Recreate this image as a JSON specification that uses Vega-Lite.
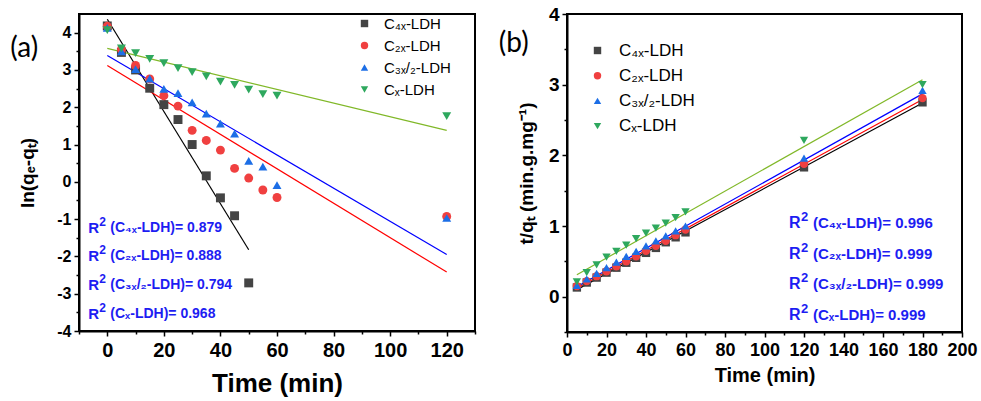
{
  "$schema": "https://vega.github.io/schema/vega-lite/v6.json",
  "padding": {"left": 9, "top": 4, "right": 0, "bottom": 0},
  "spacing": 20,
  "config": {
    "view": {"stroke": "black", "strokeWidth": 2},
    "font": "Liberation Sans",
    "axis": {
      "domainColor": "black", "domainWidth": 2, "tickColor": "black", "tickWidth": 1.5,
      "labelColor": "black", "labelFont": "Liberation Sans", "labelFontWeight": "bold",
      "titleColor": "black", "titleFont": "Liberation Sans", "titleFontWeight": "bold",
      "grid": false, "labelOverlap": false, "labelFlush": false
    },
    "legend": {"labelFont": "Liberation Sans", "labelColor": "black", "symbolStrokeWidth": 0, "padding": 0}
  },
  "datasets": {
    "a_pts": [
      {"s": "C₄ₓ-LDH", "t": 0, "v": 4.18}, {"s": "C₄ₓ-LDH", "t": 5, "v": 3.47}, {"s": "C₄ₓ-LDH", "t": 10, "v": 3.0}, {"s": "C₄ₓ-LDH", "t": 15, "v": 2.51}, {"s": "C₄ₓ-LDH", "t": 20, "v": 2.07}, {"s": "C₄ₓ-LDH", "t": 25, "v": 1.67}, {"s": "C₄ₓ-LDH", "t": 30, "v": 1.0}, {"s": "C₄ₓ-LDH", "t": 35, "v": 0.16}, {"s": "C₄ₓ-LDH", "t": 40, "v": -0.43}, {"s": "C₄ₓ-LDH", "t": 45, "v": -0.91}, {"s": "C₄ₓ-LDH", "t": 50, "v": -2.71},
      {"s": "C₂ₓ-LDH", "t": 0, "v": 4.17}, {"s": "C₂ₓ-LDH", "t": 5, "v": 3.55}, {"s": "C₂ₓ-LDH", "t": 10, "v": 3.12}, {"s": "C₂ₓ-LDH", "t": 15, "v": 2.76}, {"s": "C₂ₓ-LDH", "t": 20, "v": 2.31}, {"s": "C₂ₓ-LDH", "t": 25, "v": 2.03}, {"s": "C₂ₓ-LDH", "t": 30, "v": 1.38}, {"s": "C₂ₓ-LDH", "t": 35, "v": 1.11}, {"s": "C₂ₓ-LDH", "t": 40, "v": 0.85}, {"s": "C₂ₓ-LDH", "t": 45, "v": 0.36}, {"s": "C₂ₓ-LDH", "t": 50, "v": 0.1}, {"s": "C₂ₓ-LDH", "t": 55, "v": -0.22}, {"s": "C₂ₓ-LDH", "t": 60, "v": -0.42}, {"s": "C₂ₓ-LDH", "t": 120, "v": -0.93},
      {"s": "C₃ₓ/₂-LDH", "t": 0, "v": 4.13}, {"s": "C₃ₓ/₂-LDH", "t": 5, "v": 3.5}, {"s": "C₃ₓ/₂-LDH", "t": 10, "v": 3.02}, {"s": "C₃ₓ/₂-LDH", "t": 15, "v": 2.77}, {"s": "C₃ₓ/₂-LDH", "t": 20, "v": 2.49}, {"s": "C₃ₓ/₂-LDH", "t": 25, "v": 2.38}, {"s": "C₃ₓ/₂-LDH", "t": 30, "v": 2.13}, {"s": "C₃ₓ/₂-LDH", "t": 35, "v": 1.83}, {"s": "C₃ₓ/₂-LDH", "t": 40, "v": 1.56}, {"s": "C₃ₓ/₂-LDH", "t": 45, "v": 1.29}, {"s": "C₃ₓ/₂-LDH", "t": 50, "v": 0.56}, {"s": "C₃ₓ/₂-LDH", "t": 55, "v": 0.41}, {"s": "C₃ₓ/₂-LDH", "t": 60, "v": -0.09}, {"s": "C₃ₓ/₂-LDH", "t": 120, "v": -0.97},
      {"s": "Cₓ-LDH", "t": 0, "v": 4.07}, {"s": "Cₓ-LDH", "t": 5, "v": 3.58}, {"s": "Cₓ-LDH", "t": 10, "v": 3.45}, {"s": "Cₓ-LDH", "t": 15, "v": 3.3}, {"s": "Cₓ-LDH", "t": 20, "v": 3.18}, {"s": "Cₓ-LDH", "t": 25, "v": 3.05}, {"s": "Cₓ-LDH", "t": 30, "v": 2.94}, {"s": "Cₓ-LDH", "t": 35, "v": 2.83}, {"s": "Cₓ-LDH", "t": 40, "v": 2.69}, {"s": "Cₓ-LDH", "t": 45, "v": 2.6}, {"s": "Cₓ-LDH", "t": 50, "v": 2.47}, {"s": "Cₓ-LDH", "t": 55, "v": 2.35}, {"s": "Cₓ-LDH", "t": 60, "v": 2.31}, {"s": "Cₓ-LDH", "t": 120, "v": 1.76}
    ],
    "a_fit": [
      {"s": "C₄ₓ-LDH", "t": 0, "v": 4.36}, {"s": "C₄ₓ-LDH", "t": 50, "v": -1.82},
      {"s": "C₂ₓ-LDH", "t": 0, "v": 3.12}, {"s": "C₂ₓ-LDH", "t": 120, "v": -2.42},
      {"s": "C₃ₓ/₂-LDH", "t": 0, "v": 3.39}, {"s": "C₃ₓ/₂-LDH", "t": 120, "v": -1.95},
      {"s": "Cₓ-LDH", "t": 0, "v": 3.58}, {"s": "Cₓ-LDH", "t": 120, "v": 1.38}
    ],
    "b_pts": [
      {"s": "C₄ₓ-LDH", "t": 5, "v": 0.13}, {"s": "C₄ₓ-LDH", "t": 10, "v": 0.2}, {"s": "C₄ₓ-LDH", "t": 15, "v": 0.27}, {"s": "C₄ₓ-LDH", "t": 20, "v": 0.34}, {"s": "C₄ₓ-LDH", "t": 25, "v": 0.41}, {"s": "C₄ₓ-LDH", "t": 30, "v": 0.48}, {"s": "C₄ₓ-LDH", "t": 35, "v": 0.55}, {"s": "C₄ₓ-LDH", "t": 40, "v": 0.62}, {"s": "C₄ₓ-LDH", "t": 45, "v": 0.69}, {"s": "C₄ₓ-LDH", "t": 50, "v": 0.77}, {"s": "C₄ₓ-LDH", "t": 55, "v": 0.84}, {"s": "C₄ₓ-LDH", "t": 60, "v": 0.91}, {"s": "C₄ₓ-LDH", "t": 120, "v": 1.83}, {"s": "C₄ₓ-LDH", "t": 180, "v": 2.75},
      {"s": "C₂ₓ-LDH", "t": 5, "v": 0.15}, {"s": "C₂ₓ-LDH", "t": 10, "v": 0.22}, {"s": "C₂ₓ-LDH", "t": 15, "v": 0.29}, {"s": "C₂ₓ-LDH", "t": 20, "v": 0.36}, {"s": "C₂ₓ-LDH", "t": 25, "v": 0.43}, {"s": "C₂ₓ-LDH", "t": 30, "v": 0.5}, {"s": "C₂ₓ-LDH", "t": 35, "v": 0.57}, {"s": "C₂ₓ-LDH", "t": 40, "v": 0.65}, {"s": "C₂ₓ-LDH", "t": 45, "v": 0.72}, {"s": "C₂ₓ-LDH", "t": 50, "v": 0.79}, {"s": "C₂ₓ-LDH", "t": 55, "v": 0.87}, {"s": "C₂ₓ-LDH", "t": 60, "v": 0.95}, {"s": "C₂ₓ-LDH", "t": 120, "v": 1.88}, {"s": "C₂ₓ-LDH", "t": 180, "v": 2.81},
      {"s": "C₃ₓ/₂-LDH", "t": 5, "v": 0.16}, {"s": "C₃ₓ/₂-LDH", "t": 10, "v": 0.25}, {"s": "C₃ₓ/₂-LDH", "t": 15, "v": 0.33}, {"s": "C₃ₓ/₂-LDH", "t": 20, "v": 0.41}, {"s": "C₃ₓ/₂-LDH", "t": 25, "v": 0.49}, {"s": "C₃ₓ/₂-LDH", "t": 30, "v": 0.57}, {"s": "C₃ₓ/₂-LDH", "t": 35, "v": 0.64}, {"s": "C₃ₓ/₂-LDH", "t": 40, "v": 0.72}, {"s": "C₃ₓ/₂-LDH", "t": 45, "v": 0.79}, {"s": "C₃ₓ/₂-LDH", "t": 50, "v": 0.86}, {"s": "C₃ₓ/₂-LDH", "t": 55, "v": 0.93}, {"s": "C₃ₓ/₂-LDH", "t": 60, "v": 1.0}, {"s": "C₃ₓ/₂-LDH", "t": 120, "v": 1.96}, {"s": "C₃ₓ/₂-LDH", "t": 180, "v": 2.92},
      {"s": "Cₓ-LDH", "t": 5, "v": 0.21}, {"s": "Cₓ-LDH", "t": 10, "v": 0.34}, {"s": "Cₓ-LDH", "t": 15, "v": 0.45}, {"s": "Cₓ-LDH", "t": 20, "v": 0.56}, {"s": "Cₓ-LDH", "t": 25, "v": 0.64}, {"s": "Cₓ-LDH", "t": 30, "v": 0.73}, {"s": "Cₓ-LDH", "t": 35, "v": 0.82}, {"s": "Cₓ-LDH", "t": 40, "v": 0.9}, {"s": "Cₓ-LDH", "t": 45, "v": 0.97}, {"s": "Cₓ-LDH", "t": 50, "v": 1.04}, {"s": "Cₓ-LDH", "t": 55, "v": 1.12}, {"s": "Cₓ-LDH", "t": 60, "v": 1.2}, {"s": "Cₓ-LDH", "t": 120, "v": 2.21}, {"s": "Cₓ-LDH", "t": 180, "v": 3.0}
    ],
    "b_fit": [
      {"s": "C₄ₓ-LDH", "t": 5, "v": 0.1}, {"s": "C₄ₓ-LDH", "t": 180, "v": 2.74},
      {"s": "C₂ₓ-LDH", "t": 5, "v": 0.12}, {"s": "C₂ₓ-LDH", "t": 180, "v": 2.79},
      {"s": "C₃ₓ/₂-LDH", "t": 5, "v": 0.14}, {"s": "C₃ₓ/₂-LDH", "t": 180, "v": 2.87},
      {"s": "Cₓ-LDH", "t": 5, "v": 0.31}, {"s": "Cₓ-LDH", "t": 180, "v": 3.07}
    ],
    "one": [{}]
  },
  "hconcat": [
    {
      "width": 396,
      "height": 317,
      "layer": [
        {
          "encoding": {
            "x": {"field": "t", "type": "quantitative", "scale": {"domain": [-10, 130], "nice": false, "zero": false},
              "axis": {"title": "Time (min)", "titleFontSize": 26, "titlePadding": 10, "labelFontSize": 20, "labelPadding": 4, "labelOverlap": false,
                "values": [-10, 0, 10, 20, 30, 40, 50, 60, 70, 80, 90, 100, 110, 120, 130],
                "labelExpr": "datum.value % 20 === 0 && datum.value >= 0 && datum.value <= 120 ? '' + datum.value : ''",
                "tickSize": {"condition": {"test": "datum.value % 20 === 0", "value": 5}, "value": 3}}},
            "y": {"field": "v", "type": "quantitative", "scale": {"domain": [-4, 4.5], "nice": false, "zero": false},
              "axis": {"title": "ln(qₑ-qₜ)", "titleFontSize": 19, "titlePadding": 19, "labelFontSize": 16, "labelPadding": 3, "labelOverlap": false,
                "values": [-4, -3.5, -3, -2.5, -2, -1.5, -1, -0.5, 0, 0.5, 1, 1.5, 2, 2.5, 3, 3.5, 4],
                "labelExpr": "datum.value % 1 === 0 ? '' + datum.value : ''",
                "tickSize": {"condition": {"test": "datum.value % 1 === 0", "value": 5}, "value": 3}}}
          },
          "layer": [
            {
              "data": {"name": "a_fit"},
              "mark": {"type": "line", "strokeWidth": 1.2},
              "encoding": {
                "detail": {"field": "s", "type": "nominal"},
                "stroke": {"condition": [{"test": "datum.s === 'C₄ₓ-LDH'", "value": "#000000"}, {"test": "datum.s === 'C₂ₓ-LDH'", "value": "#ff0000"}, {"test": "datum.s === 'C₃ₓ/₂-LDH'", "value": "#0000ff"}], "value": "#80b828"}
              }
            },
            {
              "data": {"name": "a_pts"},
              "mark": {"type": "point", "filled": true, "size": 80, "opacity": 1, "strokeWidth": 0},
              "encoding": {
                "color": {"field": "s", "type": "nominal", "title": null,
                  "scale": {"domain": ["C₄ₓ-LDH", "C₂ₓ-LDH", "C₃ₓ/₂-LDH", "Cₓ-LDH"], "range": ["#444444", "#f04040", "#1c6ee6", "#2ea85e"]},
                  "legend": {"orient": "none", "legendX": 278, "legendY": 2, "labelFontSize": 15, "symbolSize": 55, "labelOffset": 12, "rowPadding": 6}},
                "shape": {"field": "s", "type": "nominal", "title": null,
                  "scale": {"domain": ["C₄ₓ-LDH", "C₂ₓ-LDH", "C₃ₓ/₂-LDH", "Cₓ-LDH"], "range": ["square", "circle", "triangle-up", "triangle-down"]},
                  "legend": {"orient": "none", "legendX": 278, "legendY": 2, "labelFontSize": 15, "symbolSize": 55, "labelOffset": 12, "rowPadding": 6}}
              }
            }
          ]
        },
        {
          "data": {"name": "one"},
          "layer": [
            {
              "mark": {"type": "text", "text": "(a)", "font": "Lato", "fontSize": 28, "align": "left", "baseline": "middle", "color": "black"},
              "encoding": {"x": {"datum": -34.3, "type": "quantitative", "scale": {"domain": [-10, 130]}, "axis": null}, "y": {"datum": 3.55, "type": "quantitative", "scale": {"domain": [-4, 4.5]}, "axis": null}}
            },
            {
              "mark": {"type": "text", "text": ["R", "R", "R", "R"], "lineHeight": 28.7, "fontSize": 15, "fontWeight": "bold", "align": "left", "baseline": "middle", "color": "#1d1df2"},
              "encoding": {"x": {"datum": -6.7, "type": "quantitative", "scale": {"domain": [-10, 130]}, "axis": null}, "y": {"datum": -1.232, "type": "quantitative", "scale": {"domain": [-4, 4.5]}, "axis": null}}
            },
            {
              "mark": {"type": "text", "text": ["2", "2", "2", "2"], "lineHeight": 28.7, "fontSize": 12, "fontWeight": "bold", "align": "left", "baseline": "middle", "color": "#1d1df2", "dx": 11, "dy": -6},
              "encoding": {"x": {"datum": -6.7, "type": "quantitative", "scale": {"domain": [-10, 130]}, "axis": null}, "y": {"datum": -1.232, "type": "quantitative", "scale": {"domain": [-4, 4.5]}, "axis": null}}
            },
            {
              "mark": {"type": "text", "text": ["(C₄ₓ-LDH)= 0.879", "(C₂ₓ-LDH)= 0.888", "(C₃ₓ/₂-LDH)= 0.794", "(Cₓ-LDH)= 0.968"],
                "lineHeight": 28.7, "fontSize": 14, "fontWeight": "bold", "align": "left", "baseline": "middle", "color": "#1d1df2", "dx": 22},
              "encoding": {"x": {"datum": -6.7, "type": "quantitative", "scale": {"domain": [-10, 130]}, "axis": null}, "y": {"datum": -1.232, "type": "quantitative", "scale": {"domain": [-4, 4.5]}, "axis": null}}
            }
          ]
        }
      ],
      "resolve": {"scale": {"x": "independent", "y": "independent"}}
    },
    {
      "width": 395,
      "height": 318,
      "layer": [
        {
          "encoding": {
            "x": {"field": "t", "type": "quantitative", "scale": {"domain": [0, 200], "nice": false, "zero": false},
              "axis": {"title": "Time (min)", "titleFontSize": 20, "titlePadding": 6, "labelFontSize": 18, "labelPadding": 4, "labelOverlap": false,
                "values": [0, 10, 20, 30, 40, 50, 60, 70, 80, 90, 100, 110, 120, 130, 140, 150, 160, 170, 180, 190, 200],
                "labelExpr": "datum.value % 20 === 0 ? '' + datum.value : ''",
                "tickSize": {"condition": {"test": "datum.value % 20 === 0", "value": 5}, "value": 3}}},
            "y": {"field": "v", "type": "quantitative", "scale": {"domain": [-0.5, 4], "nice": false, "zero": false},
              "axis": {"title": "t/qₜ (min.g.mg⁻¹)", "titleFontSize": 19, "titlePadding": 12, "labelFontSize": 19, "labelPadding": 3, "labelOverlap": false,
                "values": [-0.5, 0, 0.5, 1, 1.5, 2, 2.5, 3, 3.5, 4],
                "labelExpr": "datum.value % 1 === 0 ? '' + datum.value : ''",
                "tickSize": {"condition": {"test": "datum.value % 1 === 0", "value": 5}, "value": 3}}}
          },
          "layer": [
            {
              "data": {"name": "b_fit"},
              "mark": {"type": "line", "strokeWidth": 1.2},
              "encoding": {
                "detail": {"field": "s", "type": "nominal"},
                "stroke": {"condition": [{"test": "datum.s === 'C₄ₓ-LDH'", "value": "#000000"}, {"test": "datum.s === 'C₂ₓ-LDH'", "value": "#ff0000"}, {"test": "datum.s === 'C₃ₓ/₂-LDH'", "value": "#0000ff"}], "value": "#80b828"}
              }
            },
            {
              "data": {"name": "b_pts"},
              "mark": {"type": "point", "filled": true, "size": 70, "opacity": 1, "strokeWidth": 0},
              "encoding": {
                "color": {"field": "s", "type": "nominal", "title": null,
                  "scale": {"domain": ["C₄ₓ-LDH", "C₂ₓ-LDH", "C₃ₓ/₂-LDH", "Cₓ-LDH"], "range": ["#444444", "#f04040", "#1c6ee6", "#2ea85e"]},
                  "legend": {"orient": "none", "legendX": 22, "legendY": 28, "labelFontSize": 17, "symbolSize": 55, "labelOffset": 13, "rowPadding": 7.2}},
                "shape": {"field": "s", "type": "nominal", "title": null,
                  "scale": {"domain": ["C₄ₓ-LDH", "C₂ₓ-LDH", "C₃ₓ/₂-LDH", "Cₓ-LDH"], "range": ["square", "circle", "triangle-up", "triangle-down"]},
                  "legend": {"orient": "none", "legendX": 22, "legendY": 28, "labelFontSize": 17, "symbolSize": 55, "labelOffset": 13, "rowPadding": 7.2}}
              }
            }
          ]
        },
        {
          "data": {"name": "one"},
          "layer": [
            {
              "mark": {"type": "text", "text": "(b)", "font": "Lato", "fontSize": 28, "align": "left", "baseline": "middle", "color": "black"},
              "encoding": {"x": {"datum": -34.5, "type": "quantitative", "scale": {"domain": [0, 200]}, "axis": null}, "y": {"datum": 3.57, "type": "quantitative", "scale": {"domain": [-0.5, 4]}, "axis": null}}
            },
            {
              "mark": {"type": "text", "text": ["R", "R", "R", "R"], "lineHeight": 30.8, "fontSize": 16, "fontWeight": "bold", "align": "left", "baseline": "middle", "color": "#1d1df2"},
              "encoding": {"x": {"datum": 112.4, "type": "quantitative", "scale": {"domain": [0, 200]}, "axis": null}, "y": {"datum": 1.044, "type": "quantitative", "scale": {"domain": [-0.5, 4]}, "axis": null}}
            },
            {
              "mark": {"type": "text", "text": ["2", "2", "2", "2"], "lineHeight": 30.8, "fontSize": 13, "fontWeight": "bold", "align": "left", "baseline": "middle", "color": "#1d1df2", "dx": 12, "dy": -6},
              "encoding": {"x": {"datum": 112.4, "type": "quantitative", "scale": {"domain": [0, 200]}, "axis": null}, "y": {"datum": 1.044, "type": "quantitative", "scale": {"domain": [-0.5, 4]}, "axis": null}}
            },
            {
              "mark": {"type": "text", "text": ["(C₄ₓ-LDH)= 0.996", "(C₂ₓ-LDH)= 0.999", "(C₃ₓ/₂-LDH)= 0.999", "(Cₓ-LDH)= 0.999"],
                "lineHeight": 30.8, "fontSize": 15, "fontWeight": "bold", "align": "left", "baseline": "middle", "color": "#1d1df2", "dx": 24},
              "encoding": {"x": {"datum": 112.4, "type": "quantitative", "scale": {"domain": [0, 200]}, "axis": null}, "y": {"datum": 1.044, "type": "quantitative", "scale": {"domain": [-0.5, 4]}, "axis": null}}
            }
          ]
        }
      ],
      "resolve": {"scale": {"x": "independent", "y": "independent"}}
    }
  ],
  "resolve": {"scale": {"color": "independent", "shape": "independent", "x": "independent", "y": "independent"}}
}
